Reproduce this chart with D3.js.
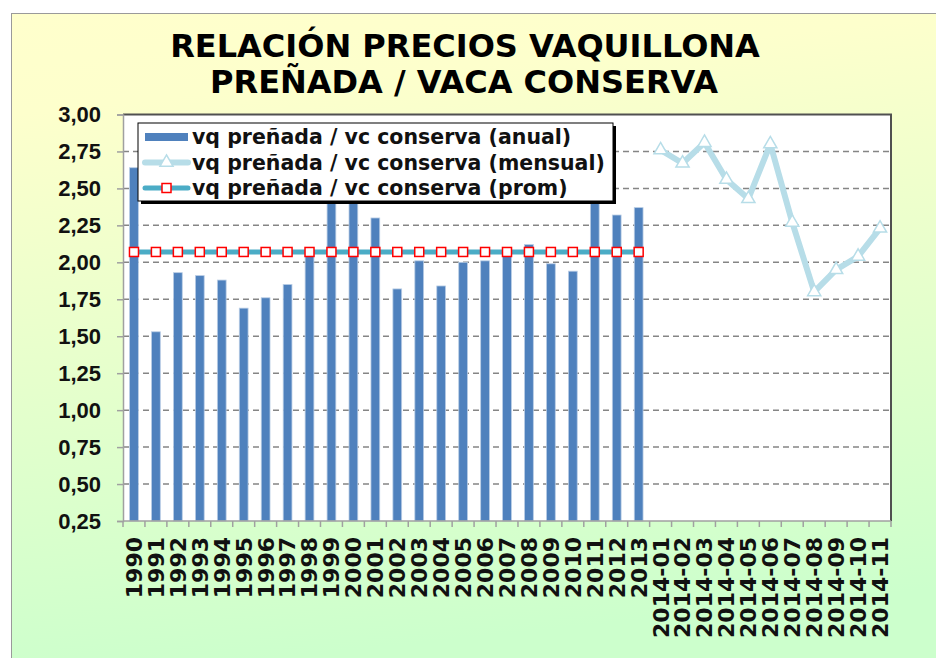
<!DOCTYPE html>
<html>
<head>
<meta charset="utf-8">
<script src="https://cdn.jsdelivr.net/npm/d3@7"></script>
<style>
  html, body { margin: 0; padding: 0; background: #fff; }
  svg { display: block; font-family: "DejaVu Sans", Verdana, sans-serif; }
</style>
</head>
<body>
<svg id="chart"></svg>
<script>
const width = 936;
const height = 658;

// Datos
const years = ["1990","1991","1992","1993","1994","1995","1996","1997","1998","1999","2000","2001",
               "2002","2003","2004","2005","2006","2007","2008","2009","2010","2011","2012","2013"];
const annual = [2.64, 1.53, 1.93, 1.91, 1.88, 1.69, 1.76, 1.85, 2.06, 2.55, 2.48, 2.30,
                1.82, 2.01, 1.84, 2.00, 2.01, 2.06, 2.12, 1.99, 1.94, 2.45, 2.32, 2.37];
const months = ["2014-01","2014-02","2014-03","2014-04","2014-05","2014-06",
                "2014-07","2014-08","2014-09","2014-10","2014-11"];
const monthly = [2.76, 2.67, 2.81, 2.56, 2.43, 2.80, 2.27, 1.80, 1.95, 2.04, 2.23];
const average = 2.07;
const yTicks = [0.25, 0.5, 0.75, 1, 1.25, 1.5, 1.75, 2, 2.25, 2.5, 2.75, 3];
const legendLabels = ["vq preñada / vc conserva (anual)",
                      "vq preñada / vc conserva (mensual)",
                      "vq preñada / vc conserva (prom)"];

const categories = years.concat(months);

const plot = { left: 123, right: 891, top: 114.5, bottom: 521 };

const svg = d3.select("#chart")
    .attr("width", width)
    .attr("height", height);

// Fondo degradado
const defs = svg.append("defs");
const grad = defs.append("linearGradient")
    .attr("id", "bg")
    .attr("x1", 0).attr("y1", 0).attr("x2", 0.15).attr("y2", 1);
grad.append("stop").attr("offset", "0%").attr("stop-color", "#ffffcc");
grad.append("stop").attr("offset", "15%").attr("stop-color", "#fdffcc");
grad.append("stop").attr("offset", "100%").attr("stop-color", "#ccffcc");

svg.append("rect")
    .attr("x", 11.5).attr("y", 13.5)
    .attr("width", width).attr("height", height)
    .attr("fill", "url(#bg)")
    .attr("stroke", "#9a9a9a")
    .attr("stroke-width", 1);

// Escalas
const x = d3.scaleBand()
    .domain(categories)
    .range([plot.left, plot.right])
    .padding(0);

const y = d3.scaleLinear()
    .domain([0.25, 3])
    .range([plot.bottom, plot.top]);

const cx = d => x(d) + x.bandwidth() / 2;

// Área del gráfico
svg.append("rect")
    .attr("x", plot.left).attr("y", plot.top)
    .attr("width", plot.right - plot.left)
    .attr("height", plot.bottom - plot.top)
    .attr("fill", "#fff");

// Grilla
svg.append("g")
    .selectAll("line")
    .data(yTicks.filter(d => d > 0.25 && d < 3))
    .join("line")
    .attr("x1", plot.left).attr("x2", plot.right)
    .attr("y1", d => y(d)).attr("y2", d => y(d))
    .attr("stroke", "#858585")
    .attr("stroke-width", 1.5)
    .attr("stroke-dasharray", "6,4");

// Borde superior / derecho
svg.append("path")
    .attr("d", `M${plot.left},${plot.top}H${plot.right}V${plot.bottom}`)
    .attr("fill", "none")
    .attr("stroke", "#505050")
    .attr("stroke-width", 2);

// Barras anuales
const barW = x.bandwidth() * 0.4;
svg.append("g")
    .selectAll("rect")
    .data(years.map((c, i) => ({ c, v: annual[i] })))
    .join("rect")
    .attr("x", d => cx(d.c) - barW / 2)
    .attr("y", d => y(d.v))
    .attr("width", barW)
    .attr("height", d => y(0.25) - y(d.v))
    .attr("fill", "#4f81bd")
    .attr("stroke", "#b9cde5")
    .attr("stroke-width", 0.8);

// Línea promedio
const lineGen = d3.line().x(d => cx(d.c)).y(d => y(d.v));
const avgData = years.map(c => ({ c, v: average }));
svg.append("path")
    .datum(avgData)
    .attr("d", lineGen)
    .attr("fill", "none")
    .attr("stroke", "#4bacc6")
    .attr("stroke-width", 5);
svg.append("g")
    .selectAll("rect")
    .data(avgData)
    .join("rect")
    .attr("x", d => cx(d.c) - 4.5)
    .attr("y", d => y(d.v) - 4.5)
    .attr("width", 9).attr("height", 9)
    .attr("fill", "#fff")
    .attr("stroke", "#ff0000")
    .attr("stroke-width", 1.5);

// Línea mensual
const monthData = months.map((c, i) => ({ c, v: monthly[i] }));
svg.append("path")
    .datum(monthData)
    .attr("d", lineGen)
    .attr("fill", "none")
    .attr("stroke", "#b7dde8")
    .attr("stroke-width", 6)
    .attr("stroke-linejoin", "round");
const tri = d3.symbol().type(d3.symbolTriangle).size(75);
svg.append("g")
    .selectAll("path")
    .data(monthData)
    .join("path")
    .attr("transform", d => `translate(${cx(d.c)},${y(d.v)})`)
    .attr("d", tri)
    .attr("fill", "#fff")
    .attr("stroke", "#b7dde8")
    .attr("stroke-width", 1.5);

// Eje Y
const yAxis = svg.append("g")
    .attr("transform", `translate(${plot.left},0)`)
    .call(d3.axisLeft(y).tickValues(yTicks).tickSize(6).tickPadding(16)
        .tickFormat(d => d3.format(".2f")(d).replace(".", ",")));
yAxis.select(".domain").attr("stroke", "#a0a0a0").attr("stroke-width", 1.5);
yAxis.selectAll(".tick line").attr("stroke", "#a0a0a0").attr("stroke-width", 1.5);
yAxis.selectAll(".tick text")
    .attr("fill", "#111")
    .style("font-size", "22px")
    .style("font-weight", "bold");

// Eje X
const xAxisG = svg.append("g");
xAxisG.append("line")
    .attr("x1", plot.left).attr("x2", plot.right)
    .attr("y1", plot.bottom).attr("y2", plot.bottom)
    .attr("stroke", "#a0a0a0").attr("stroke-width", 1.5);
xAxisG.selectAll("line.tk")
    .data(categories.concat([null]))
    .join("line")
    .attr("class", "tk")
    .attr("x1", d => d === null ? plot.right : x(d))
    .attr("x2", d => d === null ? plot.right : x(d))
    .attr("y1", plot.bottom).attr("y2", plot.bottom + 6)
    .attr("stroke", "#a0a0a0").attr("stroke-width", 1.5);
xAxisG.selectAll("text")
    .data(categories)
    .join("text")
    .attr("transform", d => `translate(${cx(d)},${plot.bottom + 16}) rotate(-90)`)
    .attr("text-anchor", "end")
    .attr("dy", "0.36em")
    .attr("fill", "#111")
    .style("font-size", "22px")
    .style("font-weight", "bold")
    .text(d => d);

// Título
svg.append("text")
    .attr("x", 465).attr("y", 57)
    .attr("text-anchor", "middle")
    .style("font-size", "32px")
    .style("font-weight", "bold")
    .text("RELACIÓN PRECIOS VAQUILLONA");
svg.append("text")
    .attr("x", 464).attr("y", 93)
    .attr("text-anchor", "middle")
    .style("font-size", "32px")
    .style("font-weight", "bold")
    .text("PREÑADA / VACA CONSERVA");

// Leyenda
const legend = svg.append("g").attr("transform", "translate(138,123)");
legend.append("rect")
    .attr("x", 3).attr("y", 3)
    .attr("width", 475).attr("height", 78)
    .attr("fill", "#000");
legend.append("rect")
    .attr("width", 475).attr("height", 78)
    .attr("fill", "#fff")
    .attr("stroke", "#000")
    .attr("stroke-width", 1);

const rowY = i => 14 + i * 25.5;
legend.append("rect")
    .attr("x", 7).attr("y", rowY(0) - 4)
    .attr("width", 43).attr("height", 8)
    .attr("fill", "#4f81bd");
legend.append("line")
    .attr("x1", 7).attr("x2", 50)
    .attr("y1", rowY(1)).attr("y2", rowY(1))
    .attr("stroke", "#b7dde8").attr("stroke-width", 6)
    .attr("stroke-linecap", "round");
legend.append("path")
    .attr("transform", `translate(28.5,${rowY(1)})`)
    .attr("d", tri)
    .attr("fill", "#fff")
    .attr("stroke", "#b7dde8")
    .attr("stroke-width", 1.5);
legend.append("line")
    .attr("x1", 7).attr("x2", 50)
    .attr("y1", rowY(2)).attr("y2", rowY(2))
    .attr("stroke", "#4bacc6").attr("stroke-width", 5)
    .attr("stroke-linecap", "round");
legend.append("rect")
    .attr("x", 24).attr("y", rowY(2) - 4.5)
    .attr("width", 9).attr("height", 9)
    .attr("fill", "#fff")
    .attr("stroke", "#ff0000")
    .attr("stroke-width", 1.5);

legend.selectAll("text")
    .data(legendLabels)
    .join("text")
    .attr("x", 54)
    .attr("y", (d, i) => rowY(i))
    .attr("dy", "0.35em")
    .attr("fill", "#111")
    .style("font-size", "20.5px")
    .style("font-weight", "bold")
    .text(d => d);
</script>
</body>
</html>
